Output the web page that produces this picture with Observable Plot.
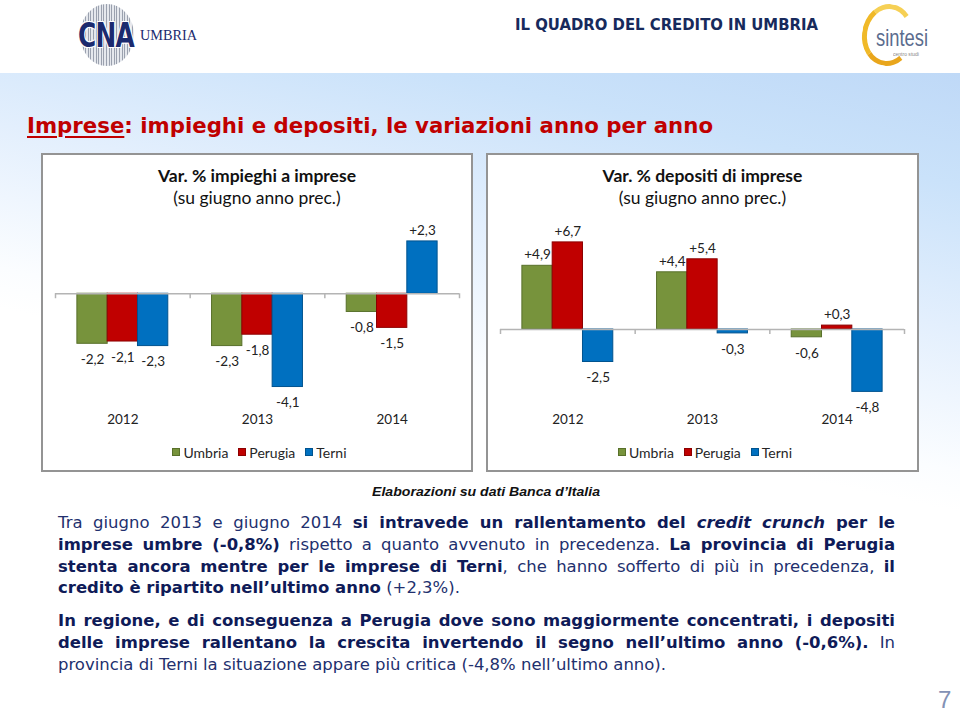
<!DOCTYPE html>
<html><head><meta charset="utf-8">
<script src="https://cdn.jsdelivr.net/npm/d3@7"></script>
<script src="https://cdn.jsdelivr.net/npm/@observablehq/plot@0.6"></script>
<style>
html,body{margin:0;padding:0;background:#fff;overflow:hidden}
#page{position:relative;width:960px;height:712px;overflow:hidden;background:#fff}
.abs{position:absolute;left:0;top:0;white-space:nowrap;line-height:1}
#band{position:absolute;left:0;top:73px;width:960px;height:639px;background:linear-gradient(192deg,#bfd9f7 0px,#cae2fa 110px,#e3effd 250px,#fbfdff 390px,#ffffff 430px)}
.box{position:absolute;background:#fff;border:2px solid #949494;box-sizing:border-box}
.chart{position:absolute}
.legend{position:absolute;display:flex;justify-content:center;align-items:center;height:16px;font-family:Lato,sans-serif;font-size:14px;color:#262626;box-sizing:border-box;padding-left:5px}
.legend .sw{display:inline-block;width:8px;height:8px;margin-right:3px;box-sizing:border-box;border:1px solid}
.legend .it{display:flex;align-items:center;margin:0 5px}
</style></head><body><div id="page"><div id="band"></div></div>
<script>
// ---- data ----
const years = ["2012", "2013", "2014"];
const regions = ["Umbria", "Perugia", "Terni"];
const impieghiUmbria  = [-2.2, -2.3, -0.8];
const impieghiPerugia = [-2.1, -1.8, -1.5];
const impieghiTerni   = [-2.3, -4.1,  2.3];
const depositiUmbria  = [ 4.9,  4.4, -0.6];
const depositiPerugia = [ 6.7,  5.4,  0.3];
const depositiTerni   = [-2.5, -0.3, -4.8];

// ---- style ----
const fills = ["#77933c", "#c00000", "#0070c0"];
const strokes = ["#58702a", "#8c0000", "#00538f"];
const fmt = v => (v > 0 ? "+" : "-") + Math.abs(v).toFixed(1).replace(".", ",");

const page = document.getElementById("page");

function txt(html, o) {
  const el = document.createElement("div");
  el.className = "abs";
  el.innerHTML = html;
  Object.assign(el.style, {fontFamily: o.font, fontSize: o.size + "px", fontWeight: o.weight || "normal",
    fontStyle: o.fstyle || "normal", color: o.color || "#000"});
  if (o.css) Object.assign(el.style, o.css);
  page.appendChild(el);
  const probe = document.createElement("span");
  probe.style.cssText = "display:inline-block;width:0;height:0;vertical-align:baseline";
  el.appendChild(probe);
  const r = el.getBoundingClientRect();
  const b = probe.getBoundingClientRect().top - r.top;
  let w = r.width, sx = 1;
  if (o.fitW) { sx = o.fitW / w; w = o.fitW; }
  let left = o.x;
  if (o.anchor === "middle") left = o.x - w / 2;
  el.style.left = left + "px";
  el.style.top = (o.base - b) + "px";
  if (sx !== 1) { el.style.transformOrigin = "0 0"; el.style.transform = `scaleX(${sx})`; }
  return el;
}

// ---- header ----
const oval = document.createElement("div");
oval.style.cssText = "position:absolute;left:80px;top:4px;width:54px;height:62px;border-radius:50%;background:repeating-linear-gradient(90deg,#8f96a5 0 1px,#e2e5eb 1px 2.6px);opacity:.9";
page.appendChild(oval);
txt("CNA", {font: "DejaVu Sans", size: 34, weight: "bold", color: "#1b2a6e", fitW: 56, x: 78, base: 47,
  css: {textShadow: "1px 1px 0 #fff,-1px -1px 0 #fff,1px -1px 0 #fff,-1px 1px 0 #fff", letterSpacing: "-1px"}});
txt("UMBRIA", {font: "Liberation Serif", size: 15, color: "#1b2a6e", fitW: 57, x: 140, base: 40});
txt("IL QUADRO DEL CREDITO IN UMBRIA", {font: "DejaVu Sans", size: 16.5, weight: "bold", color: "#172a5c", fitW: 303, x: 515, base: 30});
const arc = document.createElement("div");
arc.style.cssText = "position:absolute;left:862px;top:4px;width:52px;height:62px;box-sizing:border-box;border-radius:50%;border:5px solid transparent;border-left-color:#f0b928;border-top-color:#f6d055;border-bottom-color:#e9a61c;transform:rotate(8deg)";
page.appendChild(arc);
txt("sintesi", {font: "Liberation Sans", size: 24, color: "#5b6c8e", fitW: 52, x: 876, base: 46});
txt("centro studi", {font: "Liberation Sans", size: 6, color: "#888", fitW: 26, x: 893, base: 56});

// ---- slide title ----
txt('<span style="text-decoration:underline;text-decoration-thickness:2px;text-underline-offset:3px">Imprese</span>: impieghi e depositi, le variazioni anno per anno',
  {font: "DejaVu Sans", size: 22, weight: "bold", color: "#c00000", fitW: 686, x: 27, base: 133});

// ---- charts ----
const W = 0.225;
function chart(series, yDomain, left, width, title) {
  const box = document.createElement("div");
  box.className = "box";
  Object.assign(box.style, {left: left + "px", top: "153px", width: width + "px", height: "319px"});
  page.appendChild(box);
  const cx = left + width / 2;
  txt(title, {font: "Lato", size: 17.5, weight: "bold", color: "#111", x: cx, base: 181.7, anchor: "middle"});
  txt("(su giugno anno prec.)", {font: "Lato", size: 17.5, color: "#111", x: cx, base: 203.5, anchor: "middle"});

  const table = years.flatMap((year, i) => regions.map((region, r) => ({year, region, value: series[r][i], i, r})));
  const x1 = d => d.i - 1.5 * W + d.r * W;
  const x2 = d => x1(d) + W;
  const xc = d => x1(d) + W / 2;
  const bounds = d3.range(years.length + 1).map(k => k - 0.5);
  const svg = Plot.plot({
    width, height: 225, marginTop: 10, marginBottom: 33, marginLeft: 14, marginRight: width - 418,
    style: {background: "transparent", fontFamily: "Lato", fontSize: "13px", overflow: "visible", maxWidth: "none"},
    x: {domain: [-0.5, years.length - 0.5], axis: null},
    y: {domain: yDomain, axis: null},
    marks: [
      ...regions.map((region, r) => Plot.rectY(table.filter(d => d.r === r),
        {x1, x2, y1: 0, y2: "value", fill: fills[r], stroke: strokes[r], strokeWidth: 1})),
      Plot.ruleY([0], {stroke: "#b4b4b4", strokeWidth: 1.5}),
      Plot.ruleX(bounds, {x: d => d, y1: 0, y2: 0, insetBottom: -5, stroke: "#b4b4b4", strokeWidth: 1.5}),
      Plot.text(table, {filter: d => d.value > 0, x: xc, y: "value", text: d => fmt(d.value), dy: -11, fill: "#222", fontSize: 13.5}),
      Plot.text(table, {filter: d => d.value < 0, x: xc, y: "value", text: d => fmt(d.value), dy: 16, fill: "#222", fontSize: 13.5}),
      Plot.text(years, {x: (d, i) => i, frameAnchor: "bottom", dy: 16, text: d => d, fill: "#222", fontSize: 13.5})
    ]
  });
  svg.classList.add("chart");
  Object.assign(svg.style, {left: left + "px", top: "215px"});
  page.appendChild(svg);

  const lg = document.createElement("div");
  lg.className = "legend";
  Object.assign(lg.style, {left: left + "px", width: width + "px", top: "444px"});
  regions.forEach((region, r) => {
    const it = document.createElement("span");
    it.className = "it";
    it.innerHTML = `<span class="sw" style="background:${fills[r]};border-color:${strokes[r]}"></span>${region}`;
    lg.appendChild(it);
  });
  page.appendChild(lg);
}
chart([impieghiUmbria, impieghiPerugia, impieghiTerni], [-5, 3], 41, 432, "Var. % impieghi a imprese");
chart([depositiUmbria, depositiPerugia, depositiTerni], [-6, 8], 486, 433, "Var. % depositi di imprese");

// ---- source ----
txt("Elaborazioni su dati Banca d’Italia", {font: "Liberation Sans", size: 13, weight: "bold", fstyle: "italic", color: "#111", fitW: 228, x: 372, base: 496});

// ---- body text ----
const lines = [
  [["Tra giugno 2013 e giugno 2014 ", "n"], ["si intravede un rallentamento del ", "b"], ["credit crunch", "bi"], [" per le", "b"]],
  [["imprese umbre (-0,8%)", "b"], [" rispetto a quanto avvenuto in precedenza. ", "n"], ["La provincia di Perugia", "b"]],
  [["stenta ancora mentre per le imprese di Terni", "b"], [", che hanno sofferto di più in precedenza, ", "n"], ["il", "b"]],
  [["credito è ripartito nell’ultimo anno", "b"], [" (+2,3%).", "n"]],
  [["In regione, e di conseguenza a Perugia dove sono maggiormente concentrati, i depositi", "b"]],
  [["delle imprese rallentano la crescita invertendo il segno nell’ultimo anno (-0,6%).", "b"], [" In", "n"]],
  [["provincia di Terni la situazione appare più critica (-4,8% nell’ultimo anno).", "n"]]
];
const lineBase = [528.3, 550, 571.7, 593.3, 626, 648, 670];
const justified = [true, true, true, false, true, true, false];
const segStyle = {
  n: "font-weight:normal;color:#22306e",
  b: "font-weight:bold;color:#0f1b58",
  bi: "font-weight:bold;font-style:italic;color:#0f1b58"
};
const els = lines.map(segs => {
  const el = document.createElement("div");
  el.className = "abs";
  el.style.fontFamily = "DejaVu Sans";
  el.style.fontSize = "16px";
  el.innerHTML = segs.map(([t, s]) => `<span style="${segStyle[s]}">${t}</span>`).join("");
  page.appendChild(el);
  return el;
});
const nat = els.map(el => el.getBoundingClientRect().width);
const maxJ = d3.max(nat.filter((w, k) => justified[k]));
const s = Math.min(608 / nat[6], 837 / (maxJ + 1));
els.forEach((el, k) => {
  const probe = document.createElement("span");
  probe.style.cssText = "display:inline-block;width:0;height:0;vertical-align:baseline";
  el.appendChild(probe);
  const b = probe.getBoundingClientRect().top - el.getBoundingClientRect().top;
  if (justified[k]) {
    el.style.whiteSpace = "normal";
    el.style.width = (837 / s) + "px";
    el.style.textAlign = "justify";
    el.style.textAlignLast = "justify";
  }
  el.style.left = "58px";
  el.style.top = (lineBase[k] - b) + "px";
  el.style.transformOrigin = "0 0";
  el.style.transform = `scaleX(${s})`;
});

// ---- page number ----
txt("7", {font: "Liberation Sans", size: 24, color: "#8391b5", x: 938, base: 708});
</script>
</body></html>
